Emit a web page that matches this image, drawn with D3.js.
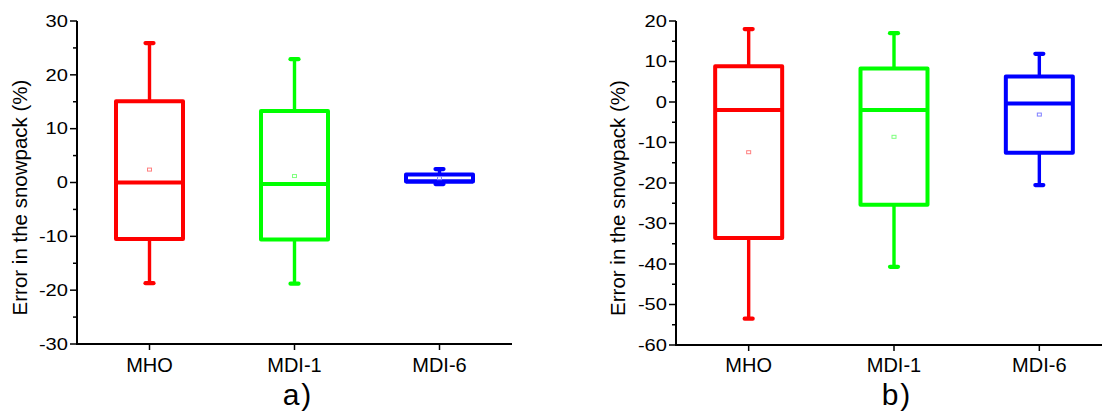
<!DOCTYPE html>
<html><head><meta charset="utf-8">
<script src="https://cdn.jsdelivr.net/npm/d3@7"></script>
<style>body{margin:0;background:#fff}svg{display:block}</style>
</head><body>
<svg id="c" width="1102" height="412"></svg>
<script>
const categories = ["MHO", "MDI-1", "MDI-6"];
const colors = ["#ff0000", "#00ff00", "#0000ff"];
const meanColors = ["#ff7f7f", "#7fff7f", "#7f7fff"];

// panel a)
const whiskerLowA  = [-18.7, -18.8, -0.3];
const q1A          = [-10.5, -10.6, 0.2];
const medianA      = [0.0, -0.3, 0.2];
const q3A          = [15.1, 13.3, 1.5];
const whiskerHighA = [25.9, 22.9, 2.5];
const meanA        = [2.4, 1.2, 0.8];
const yTicksA      = [-30, -20, -10, 0, 10, 20, 30];

// panel b)
const whiskerLowB  = [-53.5, -40.7, -20.5];
const q1B          = [-33.6, -25.4, -12.5];
const medianB      = [-2.0, -2.0, -0.4];
const q3B          = [8.8, 8.3, 6.3];
const whiskerHighB = [18.0, 17.0, 11.9];
const meanB        = [-12.4, -8.6, -3.1];
const yTicksB      = [-60, -50, -40, -30, -20, -10, 0, 10, 20];

const yTitle = "Error in the snowpack (%)";

const svg = d3.select("#c");

function panel(opt) {
  const x = d3.scaleBand().domain(categories).range(opt.xr).paddingInner(0).paddingOuter(0);
  const y = d3.scaleLinear().domain(opt.yd).range(opt.yr);
  const g = svg.append("g");

  categories.forEach((c, i) => {
    const cx = x(c) + x.bandwidth() / 2;
    const bw = 67;
    const col = colors[i];
    g.append("line").attr("x1", cx).attr("x2", cx)
      .attr("y1", y(opt.q3[i])).attr("y2", y(opt.hi[i]))
      .attr("stroke", col).attr("stroke-width", 3.4);
    g.append("line").attr("x1", cx).attr("x2", cx)
      .attr("y1", y(opt.q1[i])).attr("y2", y(opt.lo[i]))
      .attr("stroke", col).attr("stroke-width", 3.4);
    [opt.hi[i], opt.lo[i]].forEach(v => {
      g.append("line").attr("x1", cx - 4).attr("x2", cx + 4)
        .attr("y1", y(v)).attr("y2", y(v))
        .attr("stroke", col).attr("stroke-width", 4.2).attr("stroke-linecap", "round");
    });
    g.append("rect").attr("x", cx - bw / 2).attr("width", bw)
      .attr("y", y(opt.q3[i])).attr("height", y(opt.q1[i]) - y(opt.q3[i]))
      .attr("fill", "none").attr("stroke", col).attr("stroke-width", 4)
      .attr("stroke-linejoin", "round");
    g.append("line").attr("x1", cx - bw / 2).attr("x2", cx + bw / 2)
      .attr("y1", y(opt.med[i])).attr("y2", y(opt.med[i]))
      .attr("stroke", col).attr("stroke-width", 4);
    g.append("rect").attr("x", cx - 2).attr("y", y(opt.mean[i]) - 1.5)
      .attr("width", 4).attr("height", 3)
      .attr("fill", "none").attr("stroke", meanColors[i]).attr("stroke-width", 1);
  });

  const x0 = opt.xr[0];
  g.append("line").attr("x1", x0).attr("x2", x0).attr("y1", opt.yr[1]).attr("y2", opt.yr[0])
    .attr("stroke", "#000").attr("stroke-width", 2);
  const step = opt.yTicks[1] - opt.yTicks[0];
  opt.yTicks.forEach((t, k) => {
    g.append("line").attr("x1", x0 - 7).attr("x2", x0).attr("y1", y(t)).attr("y2", y(t))
      .attr("stroke", "#000").attr("stroke-width", 1.5);
    g.append("text")
      .attr("transform", `translate(${x0 - 9},${y(t)}) scale(1.22,1)`)
      .attr("text-anchor", "end").attr("dominant-baseline", "central")
      .attr("font-family", "Liberation Sans, Arial, sans-serif").attr("font-size", 16.5)
      .attr("fill", "#000").text(t);
    if (k < opt.yTicks.length - 1) {
      const m = t + step / 2;
      g.append("line").attr("x1", x0 - 4).attr("x2", x0).attr("y1", y(m)).attr("y2", y(m))
        .attr("stroke", "#000").attr("stroke-width", 1.5);
    }
  });
  g.append("line").attr("x1", x0 - 1).attr("x2", opt.xr[1]).attr("y1", opt.yr[0]).attr("y2", opt.yr[0])
    .attr("stroke", "#000").attr("stroke-width", 2);
  categories.forEach(c => {
    const cx = x(c) + x.bandwidth() / 2;
    g.append("line").attr("x1", cx).attr("x2", cx).attr("y1", opt.yr[0]).attr("y2", opt.yr[0] + 6)
      .attr("stroke", "#000").attr("stroke-width", 1.5);
    g.append("text").attr("x", cx).attr("y", 372)
      .attr("text-anchor", "middle")
      .attr("font-family", "Liberation Sans, Arial, sans-serif").attr("font-size", 20)
      .attr("fill", "#000").text(c);
  });
  g.append("text")
    .attr("transform", `translate(${opt.titleX},${(opt.yr[0] + opt.yr[1]) / 2 + 15}) rotate(-90)`)
    .attr("text-anchor", "middle")
    .attr("font-family", "Liberation Sans, Arial, sans-serif").attr("font-size", 20.5)
    .attr("fill", "#000").text(yTitle);
  g.append("text").attr("x", opt.labelX).attr("y", 405)
    .attr("text-anchor", "middle")
    .attr("font-family", "Liberation Sans, Arial, sans-serif").attr("font-size", 30)
    .attr("letter-spacing", 2)
    .attr("fill", "#000").text(opt.label);
}

panel({xr: [77, 512], yd: [-30, 30], yr: [344, 21], yTicks: yTicksA,
  lo: whiskerLowA, q1: q1A, med: medianA, q3: q3A, hi: whiskerHighA, mean: meanA,
  titleX: 27, labelX: 298, label: "a)"});
panel({xr: [676, 1112], yd: [-60, 20], yr: [345, 21], yTicks: yTicksB,
  lo: whiskerLowB, q1: q1B, med: medianB, q3: q3B, hi: whiskerHighB, mean: meanB,
  titleX: 625, labelX: 897, label: "b)"});
</script>
</body></html>
